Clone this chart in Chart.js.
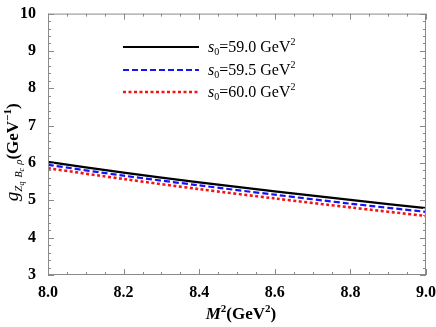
<!DOCTYPE html>
<html>
<head>
<meta charset="utf-8">
<script src="https://cdn.jsdelivr.net/npm/chart.js@4.4.1/dist/chart.umd.min.js"></script>
<style>
  html, body { margin: 0; padding: 0; background: #fff; }
  #wrap { width: 436px; height: 327px; position: relative; }
</style>
</head>
<body>
<div id="wrap"><canvas id="c"></canvas></div>
<script>
// M^2 values (GeV^2)
const m2 = [8.0, 8.2, 8.4, 8.6, 8.8, 9.0];
// coupling, one list per threshold s0
const s0Labels = ["59.0", "59.5", "60.0"];
const g590 = [6.03, 5.74, 5.48, 5.24, 5.01, 4.79];
const g595 = [5.95, 5.66, 5.40, 5.15, 4.91, 4.69];
const g600 = [5.86, 5.57, 5.30, 5.05, 4.81, 4.58];

const SERIF = '"Liberation Serif", "DejaVu Serif", serif';
const FRAME = "#8a8a8a";

const toXY = (ys) => ys.map((y, i) => ({ x: m2[i], y }));

// draw a list of text runs one after another
function drawRuns(ctx, runs, x, y) {
  let cx = x;
  runs.forEach((r) => {
    ctx.font = r.font;
    ctx.fillText(r.t, cx, y + (r.dy || 0));
    cx += ctx.measureText(r.t).width + (r.gap || 0);
  });
  return cx - x;
}
function runsWidth(ctx, runs) {
  let w = 0;
  runs.forEach((r) => { ctx.font = r.font; w += ctx.measureText(r.t).width + (r.gap || 0); });
  return w;
}

// inward ticks on all four sides + frame
const framePlugin = {
  id: "frame",
  afterDatasetsDraw(chart) {
    const { ctx, chartArea: a, scales } = chart;
    ctx.save();
    ctx.strokeStyle = FRAME;
    ctx.lineWidth = 1;
    ctx.strokeRect(a.left + 0.5, a.top + 0.5, a.right - a.left - 1, a.bottom - a.top - 1);
    ctx.beginPath();
    for (let i = 0; i <= 20; i++) {
      const px = Math.round(scales.x.getPixelForValue(8 + i * 0.05)) + 0.5;
      const len = i % 4 === 0 ? 6 : 3;
      ctx.moveTo(px, a.bottom); ctx.lineTo(px, a.bottom - len);
      ctx.moveTo(px, a.top); ctx.lineTo(px, a.top + len);
    }
    for (let i = 0; i <= 35; i++) {
      const py = Math.round(scales.y.getPixelForValue(3 + i * 0.2)) + 0.5;
      const len = i % 5 === 0 ? 6 : 3;
      ctx.moveTo(a.left, py); ctx.lineTo(a.left + len, py);
      ctx.moveTo(a.right, py); ctx.lineTo(a.right - len, py);
    }
    ctx.stroke();
    ctx.restore();
  },
  afterDraw(chart) {
    const { ctx, chartArea: a } = chart;
    ctx.save();
    ctx.fillStyle = "#000";
    ctx.textBaseline = "alphabetic";

    // x title
    const xr = [
      { t: "M", font: `italic bold 17px ${SERIF}` },
      { t: "2", font: `bold 11px ${SERIF}`, dy: -7 },
      { t: "(GeV", font: `bold 17px ${SERIF}` },
      { t: "2", font: `bold 11px ${SERIF}`, dy: -7 },
      { t: ")", font: `bold 17px ${SERIF}` },
    ];
    const xw = runsWidth(ctx, xr);
    drawRuns(ctx, xr, (a.left + a.right) / 2 + 4 - xw / 2, 319);

    // y title, rotated
    const yr = [
      { t: "g", font: `italic 19px ${SERIF}` },
      { t: "Z", font: `italic 11px ${SERIF}`, dy: 4 },
      { t: "q", font: `italic 8px ${SERIF}`, dy: 6, gap: 4 },
      { t: "B", font: `italic 10px ${SERIF}`, dy: 4 },
      { t: "c", font: `italic 8px ${SERIF}`, dy: 6, gap: 3 },
      { t: "ρ", font: `italic 11px ${SERIF}`, dy: 4 },
      { t: "(GeV", font: `bold 17px ${SERIF}` },
      { t: "−1", font: `bold 11px ${SERIF}`, dy: -7 },
      { t: ")", font: `bold 17px ${SERIF}` },
    ];
    const yw = runsWidth(ctx, yr);
    ctx.translate(18, (a.top + a.bottom) / 2 + 8);
    ctx.rotate(-Math.PI / 2);
    drawRuns(ctx, yr, -yw / 2, 0);
    ctx.restore();

    // legend
    ctx.save();
    const rows = [47, 70, 92];
    chart.data.datasets.forEach((ds, i) => {
      const y = rows[i];
      ctx.strokeStyle = ds.borderColor;
      ctx.lineWidth = ds.borderWidth;
      ctx.setLineDash(ds.borderDash || []);
      ctx.beginPath();
      ctx.moveTo(123, y); ctx.lineTo(199, y);
      ctx.stroke();
      ctx.setLineDash([]);
      ctx.fillStyle = "#000";
      drawRuns(ctx, [
        { t: "s", font: `italic 16px ${SERIF}` },
        { t: "0", font: `10px ${SERIF}`, dy: 3 },
        { t: "=" + s0Labels[i] + " GeV", font: `16px ${SERIF}` },
        { t: "2", font: `10px ${SERIF}`, dy: -7 },
      ], 208, y + 5);
    });
    ctx.restore();
  },
};

new Chart(document.getElementById("c"), {
  type: "line",
  data: {
    datasets: [
      { label: "s0=59.0", data: toXY(g590), borderColor: "#000000", borderWidth: 2.2, pointRadius: 0, tension: 0.3 },
      { label: "s0=59.5", data: toXY(g595), borderColor: "#1414f5", borderWidth: 2.2, borderDash: [6, 3], pointRadius: 0, tension: 0.3 },
      { label: "s0=60.0", data: toXY(g600), borderColor: "#f51414", borderWidth: 2.6, borderDash: [3, 2.5], pointRadius: 0, tension: 0.3 },
    ],
  },
  options: {
    responsive: true,
    maintainAspectRatio: false,
    animation: false,
    layout: { padding: { left: 0, top: 10, right: 10, bottom: 0 } },
    plugins: { legend: { display: false }, tooltip: { enabled: false } },
    scales: {
      x: {
        type: "linear",
        min: 8, max: 9,
        grid: { display: false },
        border: { display: false },
        ticks: {
          stepSize: 0.2,
          padding: 0,
          color: "#000",
          font: { family: SERIF, size: 16, weight: "bold" },
          maxRotation: 0,
          callback: (v) => v.toFixed(1),
        },
        afterFit: (s) => { s.height = 52; },
      },
      y: {
        min: 3, max: 10,
        grid: { display: false },
        border: { display: false },
        ticks: {
          stepSize: 1,
          padding: 4,
          color: "#000",
          font: { family: SERIF, size: 16, weight: "bold" },
        },
        afterFit: (s) => { s.width = 48; },
      },
    },
  },
  plugins: [framePlugin],
});
</script>
</body>
</html>
